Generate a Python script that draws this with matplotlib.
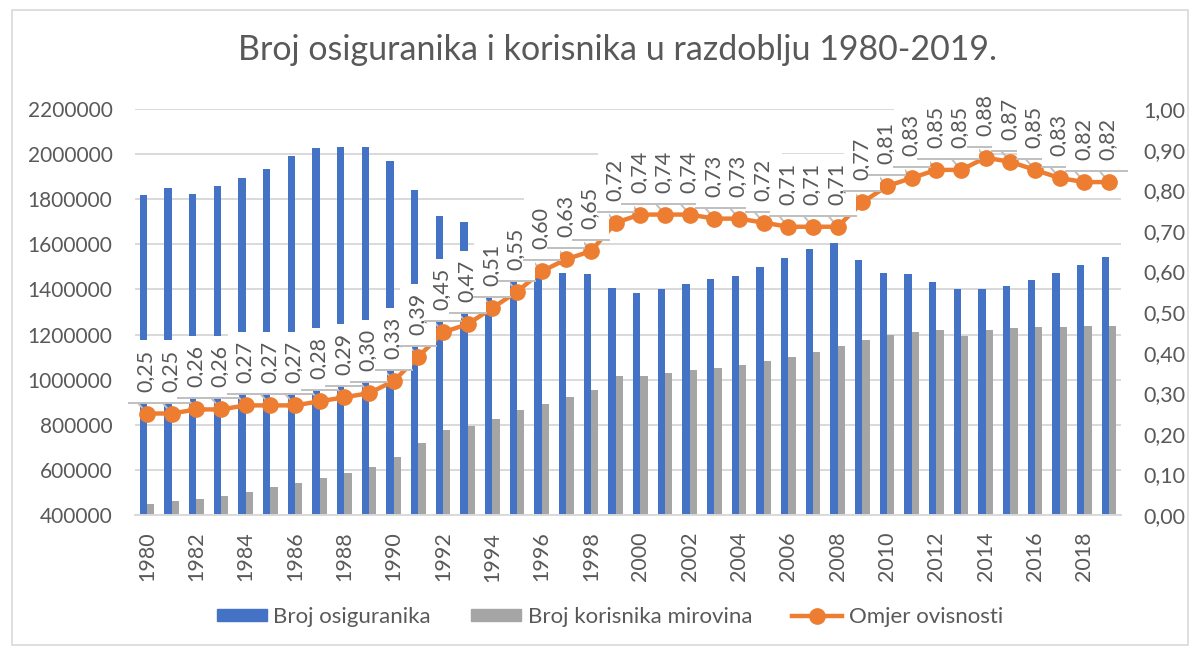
import matplotlib
matplotlib.use("Agg")
import matplotlib.pyplot as plt
from matplotlib.patches import Rectangle
from matplotlib.lines import Line2D
import numpy as np

years = list(range(1980, 2020))
osiguranici = [1818000, 1850000, 1822000, 1858000, 1893000, 1932000, 1992000, 2027000,
               2032000, 2032000, 1968000, 1840000, 1725000, 1700000, 1378000, 1455000,
               1469000, 1473000, 1470000, 1407000, 1384000, 1402000, 1424000, 1447000,
               1460000, 1500000, 1538000, 1580000, 1605000, 1530000, 1475000, 1470000,
               1435000, 1400000, 1400000, 1415000, 1440000, 1475000, 1508000, 1545000]
korisnici = [448000, 460000, 470000, 484000, 503000, 522000, 543000, 565000, 585000, 612000,
             655000, 720000, 775000, 795000, 825000, 865000, 890000, 925000, 955000, 1018000,
             1018000, 1030000, 1042000, 1052000, 1067000, 1082000, 1100000, 1122000, 1148000,
             1175000, 1200000, 1212000, 1218000, 1192000, 1222000, 1228000, 1233000, 1232000,
             1237000, 1240000]
omjer = [0.25, 0.25, 0.26, 0.26, 0.27, 0.27, 0.27, 0.28, 0.29, 0.30, 0.33, 0.39, 0.45, 0.47,
         0.51, 0.55, 0.60, 0.63, 0.65, 0.72, 0.74, 0.74, 0.74, 0.73, 0.73, 0.72, 0.71, 0.71,
         0.71, 0.77, 0.81, 0.83, 0.85, 0.85, 0.88, 0.87, 0.85, 0.83, 0.82, 0.82]

title = "Broj osiguranika i korisnika u razdoblju 1980-2019."
series_names = ["Broj osiguranika", "Broj korisnika mirovina", "Omjer ovisnosti"]

BLUE = "#4472C4"
GRAY = "#A5A5A5"
ORANGE = "#ED7D31"
TXT = "#595959"
GRID = "#D9D9D9"

plt.rcParams['font.family'] = ['Lato', 'DejaVu Sans']

fig = plt.figure(figsize=(11.93, 6.51), dpi=100)
fig.patches.append(Rectangle((12 / 1193, 6 / 651), 1176 / 1193, 635 / 651,
                             transform=fig.transFigure, fill=False,
                             edgecolor=GRID, linewidth=1.2))

ax = fig.add_axes([134.7 / 1193, 1 - 515 / 651, (1121.3 - 134.7) / 1193, (515 - 109) / 651])
x = np.arange(len(years))
w = 0.3
ax.bar(x - w / 2, osiguranici, width=w, color=BLUE, zorder=2)
ax.bar(x + w / 2, korisnici, width=w, color=GRAY, zorder=2)
ax.set_xlim(-0.5, len(years) - 0.5)
ax.set_ylim(400000, 2200000)
ax.set_yticks(np.arange(400000, 2200001, 200000))
ax.set_yticklabels([f"{int(v)}" for v in np.arange(400000, 2200001, 200000)])
ax.yaxis.grid(True, color=GRID, linewidth=1.4)
ax.set_axisbelow(True)
for s in ["top", "left", "right"]:
    ax.spines[s].set_visible(False)
ax.spines["bottom"].set_color(GRID)
ax.spines["bottom"].set_linewidth(1.4)
ax.set_xticks(x[::2])
ax.set_xticklabels([str(y) for y in years[::2]], rotation=90)
ax.tick_params(axis='x', length=0, pad=12, labelsize=15.5, labelcolor=TXT)
ax.tick_params(axis='y', length=0, pad=16, labelsize=15, labelcolor=TXT)

ax2 = ax.twinx()
ax2.set_ylim(0, 1.0)
ax2.set_yticks(np.arange(0, 1.001, 0.1))
ax2.set_yticklabels([f"{v:.2f}".replace(".", ",") for v in np.arange(0, 1.001, 0.1)])
ax2.tick_params(axis='y', length=0, pad=16, labelsize=15.5, labelcolor=TXT)
for s in ax2.spines.values():
    s.set_visible(False)

ax2.plot(x, omjer, color=ORANGE, linewidth=3.2, marker='o', markersize=11,
         zorder=2, solid_capstyle='round')

hw = 0.73
b0 = 0.027
bh = 0.153
for i, v in enumerate(omjer):
    ax2.add_line(Line2D([i - 0.38, i], [v + b0, v], color="#BFBFBF", linewidth=1.4,
                        zorder=1.9))
for i, v in enumerate(omjer):
    ax2.add_patch(Rectangle((i - hw, v + b0), 2 * hw, bh, facecolor="white",
                            edgecolor="none", zorder=3, clip_on=False))
    ax2.add_line(Line2D([i - hw, i + hw], [v + b0, v + b0], color="#BFBFBF",
                        linewidth=1.4, zorder=3, clip_on=False))
    ax2.text(i - 0.05, v + 0.106, f"{v:.2f}".replace(".", ","), rotation=90,
             ha='center', va='center', fontsize=15.5, color=TXT, zorder=3,
             clip_on=False)

fig.text(617 / 1193, 1 - 50 / 651, title, ha='center', va='center', fontsize=24.5,
         color=TXT)

handles = [Rectangle((0, 0), 1, 1, color=BLUE), Rectangle((0, 0), 1, 1, color=GRAY),
           Line2D([0], [0], color=ORANGE, linewidth=3.2, marker='o', markersize=11)]
fig.legend(handles, series_names, loc='center', bbox_to_anchor=(610 / 1193, 1 - 617 / 651),
           ncol=3, frameon=False, fontsize=16, labelcolor=TXT, handlelength=2.25,
           handleheight=0.5, handletextpad=0.3, columnspacing=1.8)

fig.savefig("out.png", dpi=100)
